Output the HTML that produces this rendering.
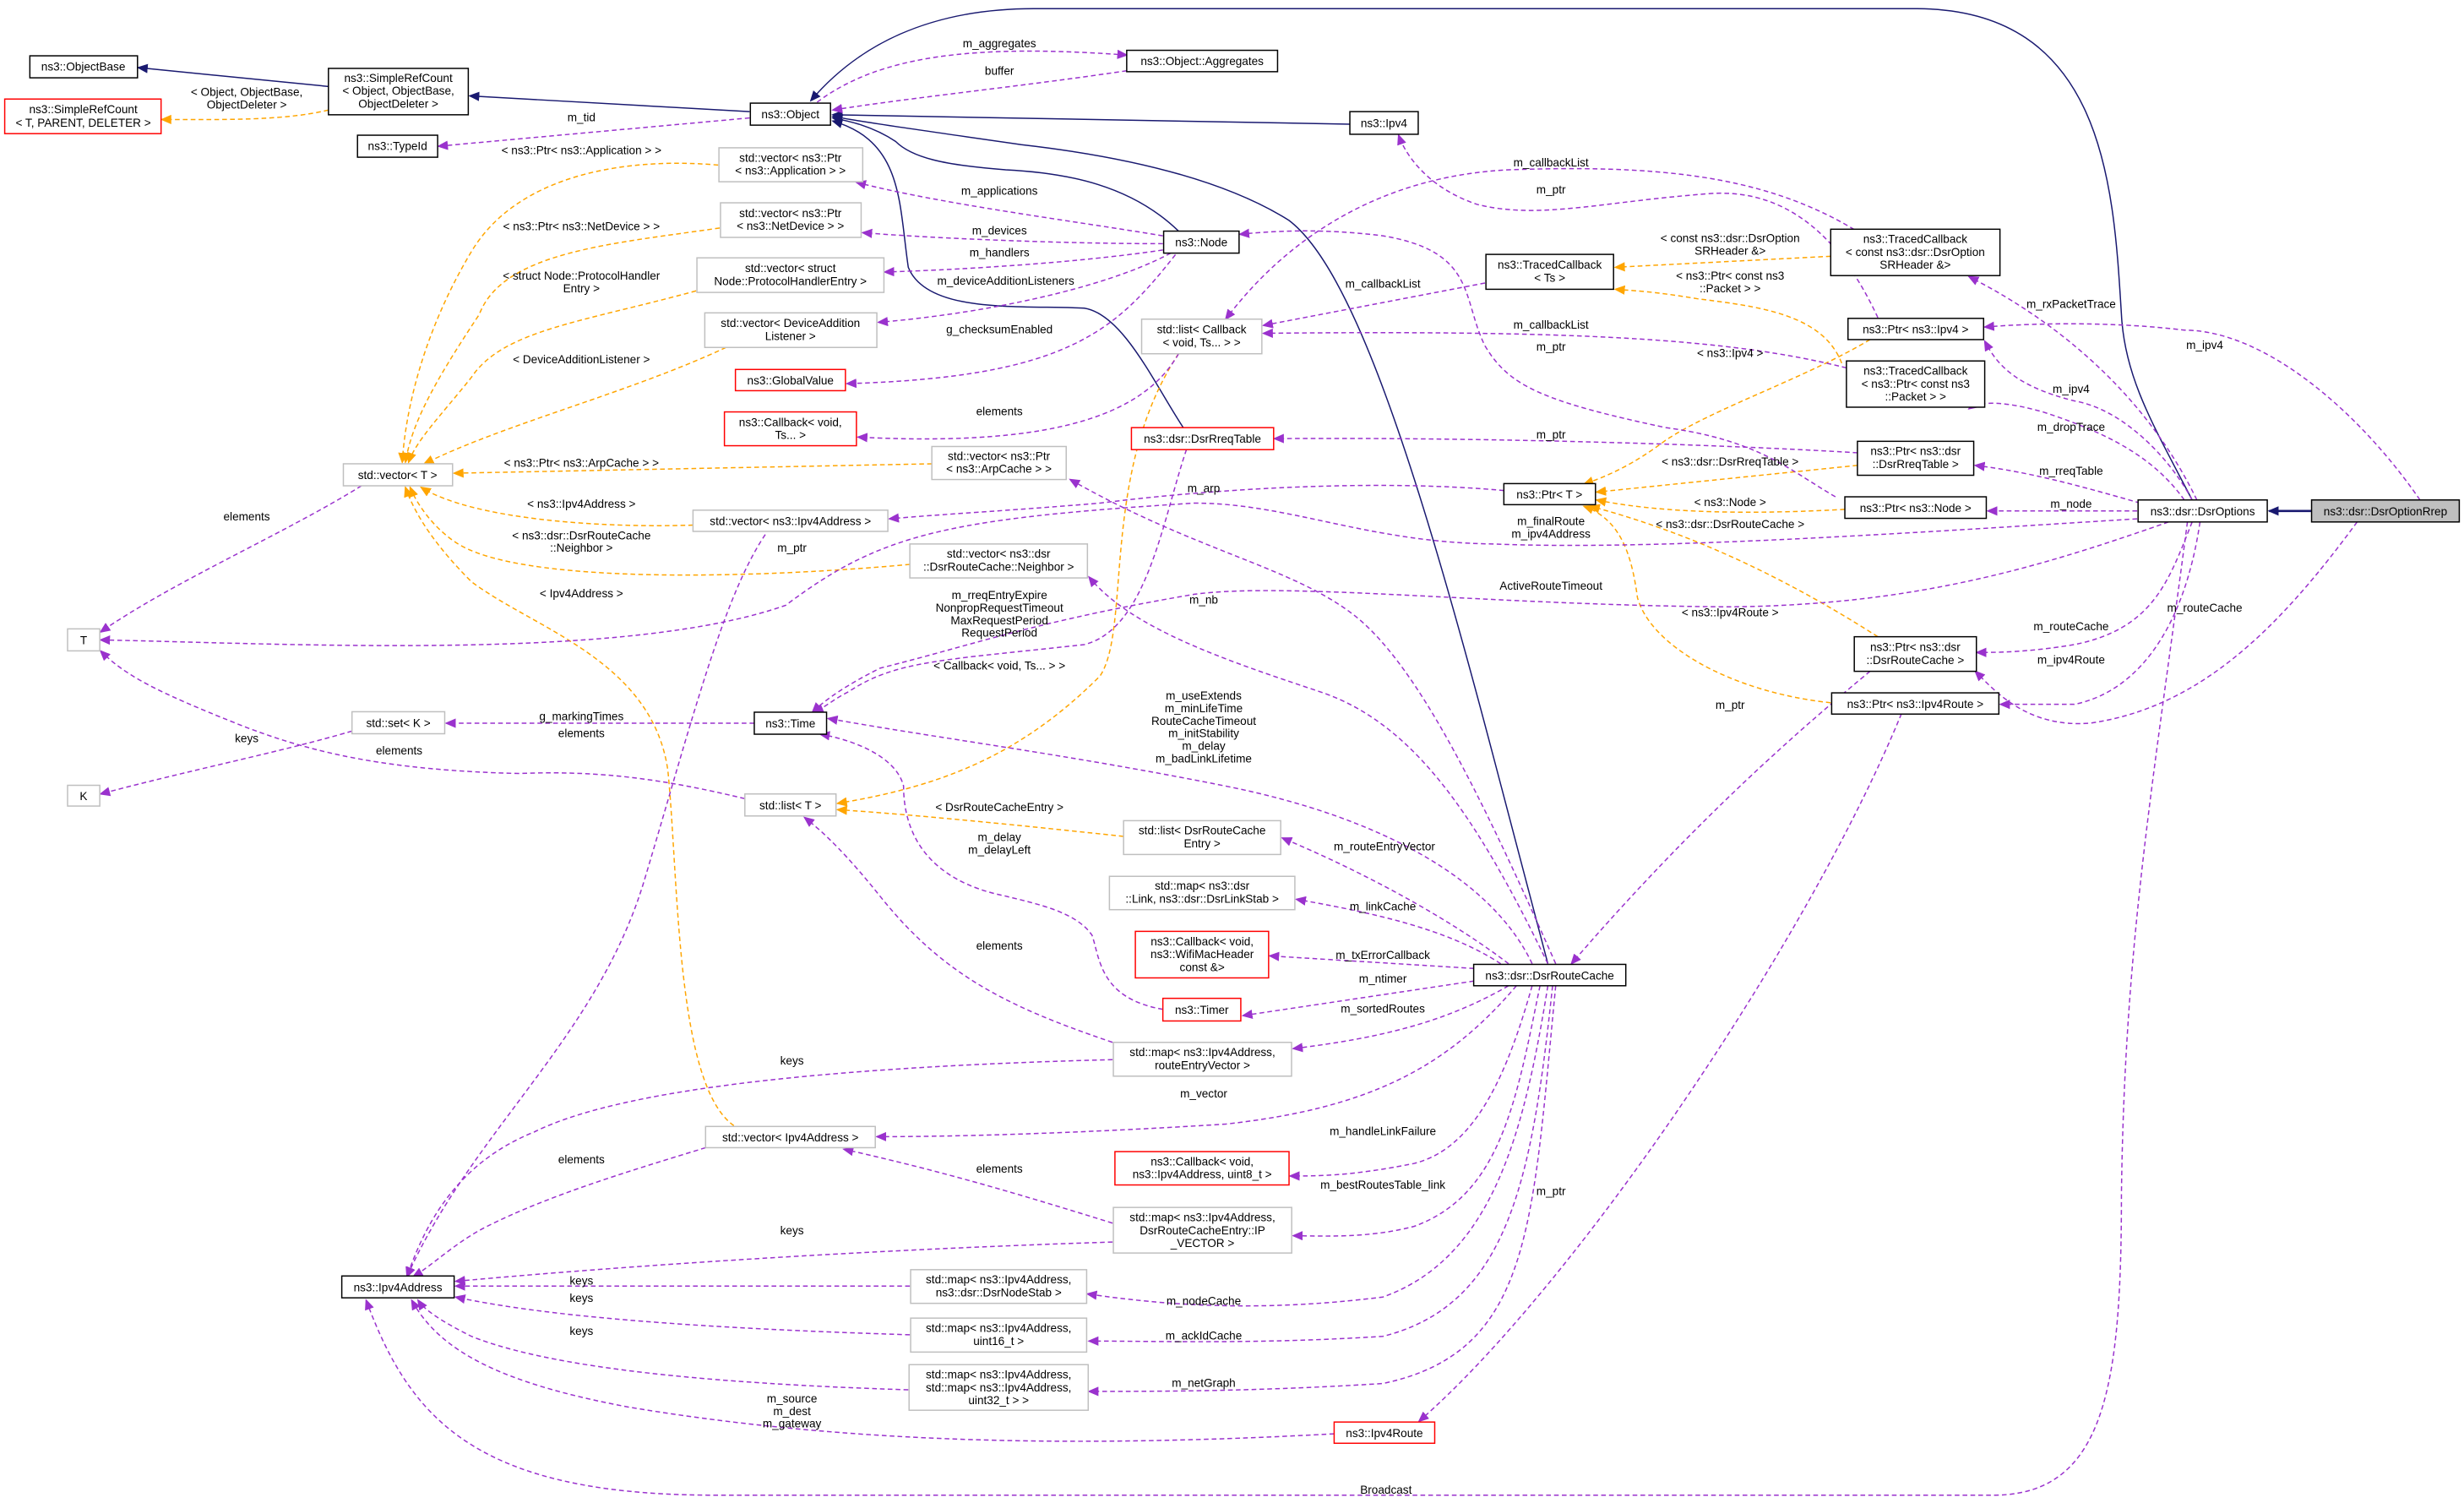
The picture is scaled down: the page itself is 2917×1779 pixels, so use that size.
<!DOCTYPE html>
<html><head><meta charset="utf-8"><style>
html,body{margin:0;padding:0;background:#fff;}
svg{display:block;}
text{font-family:"Liberation Sans",sans-serif;font-size:7.3px;fill:#000;}
.n{text-anchor:middle;}
.l{text-anchor:middle;}
.p{fill:none;stroke:#9a32cd;stroke-width:0.8;stroke-dasharray:3,2;}
.o{fill:none;stroke:#ffa500;stroke-width:0.8;stroke-dasharray:3,2;}
.b{fill:none;stroke:#191970;stroke-width:0.8;}
.bx{fill:#fff;stroke:#000;stroke-width:0.8;}
.gx{fill:#fff;stroke:#bfbfbf;stroke-width:0.8;}
.rx{fill:#fff;stroke:#ff0000;stroke-width:0.8;}
</style></head><body>
<svg width="2917" height="1779" viewBox="0 0 1568 956" preserveAspectRatio="none" xmlns="http://www.w3.org/2000/svg">
<defs>
<marker id="mp" markerWidth="7" markerHeight="6" refX="6" refY="3" orient="auto" markerUnits="userSpaceOnUse"><path d="M0,0 L7,3 L0,6 z" fill="#9a32cd"/></marker>
<marker id="mo" markerWidth="7" markerHeight="6" refX="6" refY="3" orient="auto" markerUnits="userSpaceOnUse"><path d="M0,0 L7,3 L0,6 z" fill="#ffa500"/></marker>
<marker id="mb" markerWidth="7" markerHeight="6" refX="6" refY="3" orient="auto" markerUnits="userSpaceOnUse"><path d="M0,0 L7,3 L0,6 z" fill="#191970"/></marker>
</defs>

<!-- navy inheritance -->
<g class="b">
<path d="M209,55 L88,43" marker-end="url(#mb)"/>
<path d="M477,71 L299,61" marker-end="url(#mb)"/>
<path d="M1395,318 C1370,270 1352,240 1350,200 C1345,120 1340,6 1220,5.5 L660,5.5 C590,5 545,30 516,64" marker-end="url(#mb)"/>
<path d="M859,79 L530,73" marker-end="url(#mb)"/>
<path d="M750,147 C720,118 680,110 640,108 C600,105 580,100 570,90 C555,80 540,77 530,75" marker-end="url(#mb)"/>
<path d="M753,272 C735,245 715,200 690,196 C650,194 590,200 578,170 C572,130 575,90 530,77" marker-end="url(#mb)"/>
<path d="M985,613 L950,480 C900,290 860,170 820,140 C780,115 720,100 650,92 C580,82 545,77 530,74" marker-end="url(#mb)"/>
<path d="M1471,325 L1444,325" marker-end="url(#mb)" stroke-width="1.4"/>
</g>

<!-- orange template edges -->
<g class="o">
<path d="M209,70 C180,77 140,76 103,76" marker-end="url(#mo)"/>
<path d="M457,105 C400,100 330,110 300,160 C270,210 258,260 256,294" marker-end="url(#mo)"/>
<path d="M458,145 C390,155 320,160 305,200 C275,245 262,270 258,294" marker-end="url(#mo)"/>
<path d="M443,185 C370,205 320,210 300,240 C280,265 265,280 260,294" marker-end="url(#mo)"/>
<path d="M462,221 C400,250 320,270 270,295" marker-end="url(#mo)"/>
<path d="M593,295 L289,301" marker-end="url(#mo)"/>
<path d="M441,334 C380,336 300,330 268,310" marker-end="url(#mo)"/>
<path d="M579,359 C480,368 330,372 290,345 C275,335 265,320 261,310" marker-end="url(#mo)"/>
<path d="M467,716 C430,690 432,560 425,490 C415,420 340,400 300,370 C280,350 265,330 258,310" marker-end="url(#mo)"/>
<path d="M750,225 C700,300 720,400 700,430 C650,480 600,500 533,511" marker-end="url(#mo)"/>
<path d="M715,532 C650,525 580,518 533,515" marker-end="url(#mo)"/>
<path d="M1165,163 L1028,170" marker-end="url(#mo)"/>
<path d="M1172,231 C1160,200 1120,195 1080,190 C1050,185 1040,185 1028,184" marker-end="url(#mo)"/>
<path d="M1190,216 C1150,240 1090,260 1060,280 C1040,295 1025,302 1008,308" marker-end="url(#mo)"/>
<path d="M1182,296 L1016,313" marker-end="url(#mo)"/>
<path d="M1174,324 C1100,328 1050,325 1016,318" marker-end="url(#mo)"/>
<path d="M1195,405 C1140,370 1080,340 1012,322" marker-end="url(#mo)"/>
<path d="M1165,447 C1100,440 1050,410 1042,380 C1038,350 1030,330 1008,322" marker-end="url(#mo)"/>
</g>

<!-- purple dashed edges -->
<g class="p">
<path d="M477,75 L279,93" marker-end="url(#mp)"/>
<path d="M520,65 C560,35 620,28 717,35" marker-end="url(#mp)"/>
<path d="M717,45 C650,55 580,62 530,70" marker-end="url(#mp)"/>
<path d="M740,150 C680,140 600,130 545,116" marker-end="url(#mp)"/>
<path d="M740,155 C680,155 600,152 549,148" marker-end="url(#mp)"/>
<path d="M740,159 C680,168 600,172 563,173" marker-end="url(#mp)"/>
<path d="M745,161 C700,185 620,200 559,205" marker-end="url(#mp)"/>
<path d="M748,162 C710,210 680,240 539,244" marker-end="url(#mp)"/>
<path d="M750,225 C730,260 680,285 546,278" marker-end="url(#mp)"/>
<path d="M945,180 L804,207" marker-end="url(#mp)"/>
<path d="M1180,146 C1120,110 1050,105 960,108 C880,112 820,150 780,203" marker-end="url(#mp)"/>
<path d="M1175,234 C1100,215 1000,210 804,212" marker-end="url(#mp)"/>
<path d="M1195,202 C1180,170 1150,120 1090,123 C1020,128 980,140 940,130 C910,120 895,100 890,86" marker-end="url(#mp)"/>
<path d="M1168,316 C1140,300 1120,280 1060,272 C980,255 960,245 945,220 C930,190 940,160 880,150 C840,145 810,147 789,149" marker-end="url(#mp)"/>
<path d="M1182,288 C1100,283 950,278 811,279" marker-end="url(#mp)"/>
<path d="M957,312 C880,305 780,310 700,320 C640,325 600,327 566,330" marker-end="url(#mp)"/>
<path d="M1395,318 C1380,290 1350,260 1320,255 C1280,245 1270,230 1263,217" marker-end="url(#mp)"/>
<path d="M1540,318 C1500,260 1440,210 1390,210 C1350,205 1300,205 1263,208" marker-end="url(#mp)"/>
<path d="M1398,318 C1370,260 1320,210 1253,176" marker-end="url(#mp)"/>
<path d="M1390,318 C1370,290 1340,275 1300,262 C1275,255 1260,255 1253,260" marker-end="url(#mp)"/>
<path d="M1362,320 C1320,308 1290,300 1257,296" marker-end="url(#mp)"/>
<path d="M1360,325 L1265,325" marker-end="url(#mp)"/>
<path d="M1360,330 C1200,340 1050,350 950,346 C870,345 820,320 760,320 C600,330 560,340 500,385 C400,420 200,410 64,407" marker-end="url(#mp)"/>
<path d="M1380,332 C1300,360 1220,385 1100,386 C950,385 820,370 760,378 C660,395 620,410 560,425 C540,435 525,445 517,453" marker-end="url(#mp)"/>
<path d="M1395,332 C1380,370 1370,400 1320,410 C1290,415 1270,415 1258,415" marker-end="url(#mp)"/>
<path d="M1500,332 C1450,400 1400,450 1330,460 C1290,463 1270,440 1257,427" marker-end="url(#mp)"/>
<path d="M1400,332 C1390,400 1360,440 1320,448 L1273,448" marker-end="url(#mp)"/>
<path d="M1392,332 C1370,500 1352,600 1350,760 C1350,880 1340,950 1270,951 L450,951 C300,950 260,900 233,827" marker-end="url(#mp)"/>
<path d="M1190,427 C1150,460 1080,520 1000,613" marker-end="url(#mp)"/>
<path d="M1210,454 C1150,600 1000,820 903,904" marker-end="url(#mp)"/>
<path d="M849,912 C700,920 550,920 400,895 C320,880 280,860 262,827" marker-end="url(#mp)"/>
<path d="M960,613 C930,590 880,560 816,533" marker-end="url(#mp)"/>
<path d="M955,613 C920,590 870,580 825,572" marker-end="url(#mp)"/>
<path d="M938,616 L808,608" marker-end="url(#mp)"/>
<path d="M938,624 L791,646" marker-end="url(#mp)"/>
<path d="M960,627 C920,650 880,660 823,667" marker-end="url(#mp)"/>
<path d="M965,627 C920,680 870,705 780,715 C700,720 620,723 558,723" marker-end="url(#mp)"/>
<path d="M975,627 C960,680 940,730 900,740 C860,748 840,748 821,748" marker-end="url(#mp)"/>
<path d="M980,627 C965,700 955,760 900,780 C870,788 840,786 823,786" marker-end="url(#mp)"/>
<path d="M985,627 C970,720 950,800 880,825 C800,835 740,830 692,823" marker-end="url(#mp)"/>
<path d="M988,627 C975,750 960,830 880,850 C800,855 740,853 693,853" marker-end="url(#mp)"/>
<path d="M990,627 C975,780 975,860 880,880 C800,885 740,885 693,885" marker-end="url(#mp)"/>
<path d="M975,613 C950,560 880,520 780,500 C680,480 600,470 527,457" marker-end="url(#mp)"/>
<path d="M985,613 C940,520 900,460 840,440 C780,420 720,400 693,367" marker-end="url(#mp)"/>
<path d="M990,613 C940,500 900,420 860,390 C820,360 760,350 681,305" marker-end="url(#mp)"/>
<path d="M487,340 C460,380 440,460 410,560 C380,660 300,720 259,812" marker-end="url(#mp)"/>
<path d="M755,286 C740,330 730,400 690,410 C600,420 570,420 540,440 C530,445 525,450 518,453" marker-end="url(#mp)"/>
<path d="M480,460 L284,460" marker-end="url(#mp)"/>
<path d="M474,508 C420,495 380,490 330,492 C250,490 200,480 150,460 C100,440 80,430 64,414" marker-end="url(#mp)"/>
<path d="M224,465 C180,478 120,490 64,505" marker-end="url(#mp)"/>
<path d="M230,309 C180,340 110,370 64,402" marker-end="url(#mp)"/>
<path d="M740,642 C700,635 700,610 695,595 C685,580 660,575 640,570 C590,560 575,530 575,500 C570,480 540,470 522,467" marker-end="url(#mp)"/>
<path d="M708,663 C640,640 600,620 560,570 C540,545 525,530 512,520" marker-end="url(#mp)"/>
<path d="M708,674 C550,678 400,690 340,720 C290,740 270,780 259,812" marker-end="url(#mp)"/>
<path d="M449,730 C400,745 350,760 310,780 C290,790 275,805 263,812" marker-end="url(#mp)"/>
<path d="M708,778 C650,760 600,745 537,731" marker-end="url(#mp)"/>
<path d="M708,790 C550,795 400,805 290,815" marker-end="url(#mp)"/>
<path d="M579,818 L290,818" marker-end="url(#mp)"/>
<path d="M579,849 C450,845 350,838 290,825" marker-end="url(#mp)"/>
<path d="M578,884 C450,880 350,870 300,850 C280,840 270,833 266,827" marker-end="url(#mp)"/>
</g>

<!-- nodes -->
<g>
<rect class="bx" x="19" y="35.5" width="68.5" height="14"/><text class="n" x="53" y="45">ns3::ObjectBase</text>
<rect class="rx" x="3" y="63" width="99.5" height="22"/><text class="n" x="53" y="72">ns3::SimpleRefCount</text><text class="n" x="53" y="80.5">&lt; T, PARENT, DELETER &gt;</text>
<rect class="bx" x="209" y="43.5" width="89" height="29.5"/><text class="n" x="253.5" y="52">ns3::SimpleRefCount</text><text class="n" x="253.5" y="60.3">&lt; Object, ObjectBase,</text><text class="n" x="253.5" y="68.6">ObjectDeleter &gt;</text>
<rect class="bx" x="477.5" y="65.6" width="51" height="14"/><text class="n" x="503" y="75.2">ns3::Object</text>
<rect class="bx" x="227.5" y="86" width="51" height="14"/><text class="n" x="253" y="95.5">ns3::TypeId</text>
<rect class="bx" x="717" y="32" width="96" height="13.6"/><text class="n" x="765" y="41.5">ns3::Object::Aggregates</text>
<rect class="bx" x="859" y="71" width="43.5" height="14.4"/><text class="n" x="880.7" y="80.8">ns3::Ipv4</text>
<rect class="gx" x="457.5" y="94" width="91.5" height="21.6"/><text class="n" x="503" y="102.8">std::vector&lt; ns3::Ptr</text><text class="n" x="503" y="111">&lt; ns3::Application &gt; &gt;</text>
<rect class="gx" x="458.5" y="129" width="89.5" height="22"/><text class="n" x="503" y="138">std::vector&lt; ns3::Ptr</text><text class="n" x="503" y="146.3">&lt; ns3::NetDevice &gt; &gt;</text>
<rect class="gx" x="443.5" y="164" width="119" height="22"/><text class="n" x="503" y="173">std::vector&lt; struct</text><text class="n" x="503" y="181.3">Node::ProtocolHandlerEntry &gt;</text>
<rect class="gx" x="448.5" y="199" width="109.5" height="22"/><text class="n" x="503" y="208">std::vector&lt; DeviceAddition</text><text class="n" x="503" y="216.3">Listener &gt;</text>
<rect class="rx" x="468" y="235" width="70" height="13.5"/><text class="n" x="503" y="244.5">ns3::GlobalValue</text>
<rect class="rx" x="461" y="262" width="84" height="21.5"/><text class="n" x="503" y="271">ns3::Callback&lt; void,</text><text class="n" x="503" y="279.2">Ts... &gt;</text>
<rect class="gx" x="218.5" y="295" width="69.5" height="14"/><text class="n" x="253" y="304.8">std::vector&lt; T &gt;</text>
<rect class="gx" x="593" y="284" width="85.5" height="21"/><text class="n" x="635.7" y="292.5">std::vector&lt; ns3::Ptr</text><text class="n" x="635.7" y="300.8">&lt; ns3::ArpCache &gt; &gt;</text>
<rect class="gx" x="441" y="324.5" width="124" height="13.5"/><text class="n" x="503" y="334">std::vector&lt; ns3::Ipv4Address &gt;</text>
<rect class="gx" x="579" y="346" width="113" height="21.6"/><text class="n" x="635.5" y="354.8">std::vector&lt; ns3::dsr</text><text class="n" x="635.5" y="363">::DsrRouteCache::Neighbor &gt;</text>
<rect class="gx" x="43" y="400" width="20.5" height="14"/><text class="n" x="53.2" y="409.7">T</text>
<rect class="gx" x="224" y="452.7" width="59" height="14"/><text class="n" x="253.5" y="462.4">std::set&lt; K &gt;</text>
<rect class="bx" x="480" y="453" width="46" height="14"/><text class="n" x="503" y="462.7">ns3::Time</text>
<rect class="bx" x="740.5" y="147" width="48" height="14"/><text class="n" x="764.5" y="156.6">ns3::Node</text>
<rect class="gx" x="726.5" y="203" width="76.5" height="22"/><text class="n" x="764.7" y="212">std::list&lt; Callback</text><text class="n" x="764.7" y="220.3">&lt; void, Ts... &gt; &gt;</text>
<rect class="rx" x="720" y="272" width="90.5" height="14"/><text class="n" x="765.2" y="281.6">ns3::dsr::DsrRreqTable</text>
<rect class="bx" x="945.6" y="161.8" width="81.2" height="22.2"/><text class="n" x="986.2" y="170.8">ns3::TracedCallback</text><text class="n" x="986.2" y="179.2">&lt; Ts &gt;</text>
<rect class="bx" x="1165" y="145.8" width="107.7" height="29.5"/><text class="n" x="1218.8" y="154.6">ns3::TracedCallback</text><text class="n" x="1218.8" y="162.8">&lt; const ns3::dsr::DsrOption</text><text class="n" x="1218.8" y="171">SRHeader &amp;&gt;</text>
<rect class="bx" x="1176" y="202.5" width="86.3" height="13.5"/><text class="n" x="1219" y="212">ns3::Ptr&lt; ns3::Ipv4 &gt;</text>
<rect class="bx" x="1175" y="229.6" width="88" height="29.4"/><text class="n" x="1219" y="238.4">ns3::TracedCallback</text><text class="n" x="1219" y="246.6">&lt; ns3::Ptr&lt; const ns3</text><text class="n" x="1219" y="254.8">::Packet &gt; &gt;</text>
<rect class="bx" x="1182" y="280.7" width="74" height="21.6"/><text class="n" x="1219" y="289.5">ns3::Ptr&lt; ns3::dsr</text><text class="n" x="1219" y="297.8">::DsrRreqTable &gt;</text>
<rect class="bx" x="957" y="307.6" width="58.3" height="13.4"/><text class="n" x="986" y="317">ns3::Ptr&lt; T &gt;</text>
<rect class="bx" x="1174" y="316" width="90" height="13.7"/><text class="n" x="1219" y="325.6">ns3::Ptr&lt; ns3::Node &gt;</text>
<rect class="bx" x="1360.6" y="318" width="82.2" height="14"/><text class="n" x="1401.7" y="327.7">ns3::dsr::DsrOptions</text>
<rect x="1471" y="318" width="94" height="14" fill="#bfbfbf" stroke="#000" stroke-width="0.8"/><text class="n" x="1518" y="327.7">ns3::dsr::DsrOptionRrep</text>
<rect class="bx" x="1180" y="405" width="77.7" height="22"/><text class="n" x="1218.8" y="414">ns3::Ptr&lt; ns3::dsr</text><text class="n" x="1218.8" y="422.3">::DsrRouteCache &gt;</text>
<rect class="bx" x="1165.6" y="440.7" width="106.4" height="13.5"/><text class="n" x="1218.8" y="450.2">ns3::Ptr&lt; ns3::Ipv4Route &gt;</text>
<rect class="gx" x="43" y="499.5" width="20.5" height="13.2"/><text class="n" x="53.2" y="508.8">K</text>
<rect class="gx" x="474" y="505" width="58" height="14"/><text class="n" x="503" y="514.7">std::list&lt; T &gt;</text>
<rect class="gx" x="715" y="522" width="100" height="21.5"/><text class="n" x="765" y="530.8">std::list&lt; DsrRouteCache</text><text class="n" x="765" y="539">Entry &gt;</text>
<rect class="gx" x="706" y="557.4" width="118" height="21.2"/><text class="n" x="765" y="566">std::map&lt; ns3::dsr</text><text class="n" x="765" y="574.3">::Link, ns3::dsr::DsrLinkStab &gt;</text>
<rect class="rx" x="722.5" y="592.4" width="84.8" height="29.6"/><text class="n" x="765" y="601.3">ns3::Callback&lt; void,</text><text class="n" x="765" y="609.5">ns3::WifiMacHeader</text><text class="n" x="765" y="617.7">const &amp;&gt;</text>
<rect class="rx" x="740" y="635" width="49.6" height="14.4"/><text class="n" x="764.8" y="644.8">ns3::Timer</text>
<rect class="gx" x="708.5" y="663" width="113.4" height="21.5"/><text class="n" x="765.2" y="671.8">std::map&lt; ns3::Ipv4Address,</text><text class="n" x="765.2" y="680">routeEntryVector &gt;</text>
<rect class="gx" x="449" y="716.5" width="108" height="13.5"/><text class="n" x="503" y="726">std::vector&lt; Ipv4Address &gt;</text>
<rect class="rx" x="709.5" y="732.5" width="110.8" height="21.2"/><text class="n" x="765" y="741.3">ns3::Callback&lt; void,</text><text class="n" x="765" y="749.5">ns3::Ipv4Address, uint8_t &gt;</text>
<rect class="gx" x="708.5" y="768" width="113.5" height="29"/><text class="n" x="765.2" y="776.8">std::map&lt; ns3::Ipv4Address,</text><text class="n" x="765.2" y="785">DsrRouteCacheEntry::IP</text><text class="n" x="765.2" y="793.2">_VECTOR &gt;</text>
<rect class="bx" x="217.5" y="811.6" width="71.5" height="13.9"/><text class="n" x="253.2" y="821.3">ns3::Ipv4Address</text>
<rect class="gx" x="579.5" y="807.6" width="112" height="21.4"/><text class="n" x="635.5" y="816.4">std::map&lt; ns3::Ipv4Address,</text><text class="n" x="635.5" y="824.6">ns3::dsr::DsrNodeStab &gt;</text>
<rect class="gx" x="579.5" y="838.4" width="112" height="21.6"/><text class="n" x="635.5" y="847.2">std::map&lt; ns3::Ipv4Address,</text><text class="n" x="635.5" y="855.5">uint16_t &gt;</text>
<rect class="gx" x="578.5" y="868" width="114" height="29"/><text class="n" x="635.5" y="876.8">std::map&lt; ns3::Ipv4Address,</text><text class="n" x="635.5" y="885">std::map&lt; ns3::Ipv4Address,</text><text class="n" x="635.5" y="893.2">uint32_t &gt; &gt;</text>
<rect class="bx" x="937.8" y="613.4" width="96.8" height="13.6"/><text class="n" x="986.2" y="623">ns3::dsr::DsrRouteCache</text>
<rect class="rx" x="849" y="904.5" width="64" height="13.5"/><text class="n" x="881" y="914">ns3::Ipv4Route</text>
</g>

<!-- edge labels -->
<g class="l">
<text class="n" x="157" y="61">&lt; Object, ObjectBase,</text><text class="n" x="157" y="69">ObjectDeleter &gt;</text>
<text class="n" x="370" y="77">m_tid</text>
<text class="n" x="636" y="30">m_aggregates</text>
<text class="n" x="636" y="47.5">buffer</text>
<text class="n" x="370" y="98">&lt; ns3::Ptr&lt; ns3::Application &gt; &gt;</text>
<text class="n" x="636" y="124">m_applications</text>
<text class="n" x="370" y="146.5">&lt; ns3::Ptr&lt; ns3::NetDevice &gt; &gt;</text>
<text class="n" x="636" y="149">m_devices</text>
<text class="n" x="636" y="163">m_handlers</text>
<text class="n" x="370" y="178">&lt; struct Node::ProtocolHandler</text><text class="n" x="370" y="186">Entry &gt;</text>
<text class="n" x="640" y="181">m_deviceAdditionListeners</text>
<text class="n" x="636" y="212">g_checksumEnabled</text>
<text class="n" x="370" y="231">&lt; DeviceAdditionListener &gt;</text>
<text class="n" x="636" y="264">elements</text>
<text class="n" x="370" y="297">&lt; ns3::Ptr&lt; ns3::ArpCache &gt; &gt;</text>
<text class="n" x="157" y="331">elements</text>
<text class="n" x="370" y="323">&lt; ns3::Ipv4Address &gt;</text>
<text class="n" x="370" y="343">&lt; ns3::dsr::DsrRouteCache</text><text class="n" x="370" y="351">::Neighbor &gt;</text>
<text class="n" x="504" y="351">m_ptr</text>
<text class="n" x="370" y="380">&lt; Ipv4Address &gt;</text>
<text class="n" x="636" y="381">m_rreqEntryExpire</text><text class="n" x="636" y="389">NonpropRequestTimeout</text><text class="n" x="636" y="397">MaxRequestPeriod</text><text class="n" x="636" y="405">RequestPeriod</text>
<text class="n" x="636" y="426">&lt; Callback&lt; void, Ts... &gt; &gt;</text>
<text class="n" x="370" y="458">g_markingTimes</text>
<text class="n" x="370" y="469">elements</text>
<text class="n" x="157" y="472">keys</text>
<text class="n" x="254" y="480">elements</text>
<text class="n" x="766" y="445">m_useExtends</text><text class="n" x="766" y="453">m_minLifeTime</text><text class="n" x="766" y="461">RouteCacheTimeout</text><text class="n" x="766" y="469">m_initStability</text><text class="n" x="766" y="477">m_delay</text><text class="n" x="766" y="485">m_badLinkLifetime</text>
<text class="n" x="636" y="516">&lt; DsrRouteCacheEntry &gt;</text>
<text class="n" x="636" y="535">m_delay</text><text class="n" x="636" y="543">m_delayLeft</text>
<text class="n" x="636" y="604">elements</text>
<text class="n" x="504" y="677">keys</text>
<text class="n" x="766" y="698">m_vector</text>
<text class="n" x="370" y="740">elements</text>
<text class="n" x="636" y="746">elements</text>
<text class="n" x="504" y="785">keys</text>
<text class="n" x="370" y="817">keys</text>
<text class="n" x="370" y="828">keys</text>
<text class="n" x="370" y="849">keys</text>
<text class="n" x="504" y="892">m_source</text><text class="n" x="504" y="900">m_dest</text><text class="n" x="504" y="908">m_gateway</text>
<text class="n" x="766" y="313">m_arp</text>
<text class="n" x="766" y="384">m_nb</text>
<text class="n" x="987" y="106">m_callbackList</text>
<text class="n" x="987" y="123">m_ptr</text>
<text class="n" x="880" y="183">m_callbackList</text>
<text class="n" x="987" y="209">m_callbackList</text>
<text class="n" x="987" y="223">m_ptr</text>
<text class="n" x="987" y="279">m_ptr</text>
<text class="n" x="987" y="334">m_finalRoute</text><text class="n" x="987" y="342">m_ipv4Address</text>
<text class="n" x="987" y="375">ActiveRouteTimeout</text>
<text class="n" x="1101" y="154">&lt; const ns3::dsr::DsrOption</text><text class="n" x="1101" y="162">SRHeader &amp;&gt;</text>
<text class="n" x="1101" y="178">&lt; ns3::Ptr&lt; const ns3</text><text class="n" x="1101" y="186">::Packet &gt; &gt;</text>
<text class="n" x="1101" y="227">&lt; ns3::Ipv4 &gt;</text>
<text class="n" x="1101" y="296">&lt; ns3::dsr::DsrRreqTable &gt;</text>
<text class="n" x="1101" y="322">&lt; ns3::Node &gt;</text>
<text class="n" x="1101" y="336">&lt; ns3::dsr::DsrRouteCache &gt;</text>
<text class="n" x="1101" y="392">&lt; ns3::Ipv4Route &gt;</text>
<text class="n" x="1101" y="451">m_ptr</text>
<text class="n" x="1318" y="196">m_rxPacketTrace</text>
<text class="n" x="1403" y="222">m_ipv4</text>
<text class="n" x="1318" y="250">m_ipv4</text>
<text class="n" x="1318" y="274">m_dropTrace</text>
<text class="n" x="1318" y="302">m_rreqTable</text>
<text class="n" x="1318" y="323">m_node</text>
<text class="n" x="1403" y="389">m_routeCache</text>
<text class="n" x="1318" y="401">m_routeCache</text>
<text class="n" x="1318" y="422">m_ipv4Route</text>
<text class="n" x="881" y="541">m_routeEntryVector</text>
<text class="n" x="880" y="579">m_linkCache</text>
<text class="n" x="880" y="610">m_txErrorCallback</text>
<text class="n" x="880" y="625">m_ntimer</text>
<text class="n" x="880" y="644">m_sortedRoutes</text>
<text class="n" x="880" y="722">m_handleLinkFailure</text>
<text class="n" x="880" y="756">m_bestRoutesTable_link</text>
<text class="n" x="987" y="760">m_ptr</text>
<text class="n" x="766" y="830">m_nodeCache</text>
<text class="n" x="766" y="852">m_ackIdCache</text>
<text class="n" x="766" y="882">m_netGraph</text>
<text class="n" x="882" y="950">Broadcast</text>
</g>
</svg>
</body></html>
